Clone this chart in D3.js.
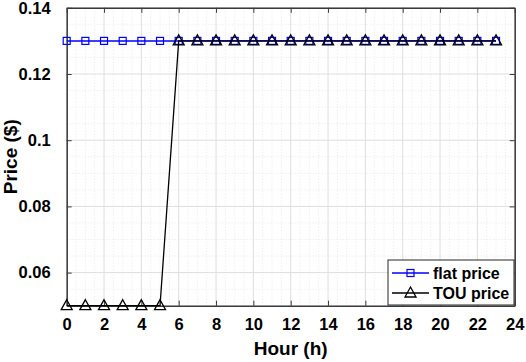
<!DOCTYPE html>
<html lang="en">
<head>
  <meta charset="UTF-8" />
  <title>Flat vs TOU price</title>
  <script src="https://d3js.org/d3.v7.min.js"></script>
  <style>
    body { margin: 0; background: #fff; }
    svg { display: block; }
    svg text { font-family: "Liberation Sans", Arial, sans-serif; font-weight: 700; fill: #000; }
    .grid-major line { stroke: #dedede; stroke-width: 1; }
    .grid-minor line { stroke: #e8e8e8; stroke-width: 1; stroke-dasharray: 1 2; }
  </style>
</head>
<body>
  <svg width="526" height="362"></svg>

  <script>
    // data
    const hours = d3.range(0, 24);
    const flatPrice = [0.13, 0.13, 0.13, 0.13, 0.13, 0.13, 0.13, 0.13, 0.13, 0.13, 0.13, 0.13,
                       0.13, 0.13, 0.13, 0.13, 0.13, 0.13, 0.13, 0.13, 0.13, 0.13, 0.13, 0.13];
    const touPrice  = [0.05, 0.05, 0.05, 0.05, 0.05, 0.05, 0.13, 0.13, 0.13, 0.13, 0.13, 0.13,
                       0.13, 0.13, 0.13, 0.13, 0.13, 0.13, 0.13, 0.13, 0.13, 0.13, 0.13, 0.13];
    const xTicks = d3.range(0, 25, 2);
    const yTicks = [0.06, 0.08, 0.1, 0.12, 0.14];
    const seriesNames = ["flat price", "TOU price"];

    const svg = d3.select("svg");
    const margin = { left: 66.7, right: 11.3, top: 7.8, bottom: 56.3 };
    const width = 526, height = 362;
    const x0 = margin.left, x1 = width - margin.right;
    const y0 = height - margin.bottom, y1 = margin.top;

    const x = d3.scaleLinear().domain([0, 24]).range([x0, x1]);
    const y = d3.scaleLinear().domain([0.05, 0.14]).range([y0, y1]);

    // minor grid (dotted)
    const minorX = d3.range(0, 24.01, 0.5).filter(v => v % 2 !== 0);
    const minorY = d3.range(0.05, 0.1401, 0.005).filter(v => Math.abs(v / 0.02 - Math.round(v / 0.02)) > 1e-6);
    const gMinor = svg.append("g").attr("class", "grid-minor");
    gMinor.selectAll("line.v").data(minorX).enter().append("line")
      .attr("x1", d => x(d)).attr("x2", d => x(d)).attr("y1", y0).attr("y2", y1);
    gMinor.selectAll("line.h").data(minorY).enter().append("line")
      .attr("y1", d => y(d)).attr("y2", d => y(d)).attr("x1", x0).attr("x2", x1);

    // major grid
    const gMajor = svg.append("g").attr("class", "grid-major");
    gMajor.selectAll("line.v").data(xTicks).enter().append("line")
      .attr("x1", d => x(d)).attr("x2", d => x(d)).attr("y1", y0).attr("y2", y1);
    gMajor.selectAll("line.h").data(yTicks).enter().append("line")
      .attr("y1", d => y(d)).attr("y2", d => y(d)).attr("x1", x0).attr("x2", x1);

    // axes with inward ticks on all four sides
    const axisColor = "#3a3a3a";
    const tickLen = 5;
    const fmtY = d => d3.format(".2f")(d).replace(/0$/, "");

    const gBottom = svg.append("g").attr("transform", `translate(0,${y0})`)
      .call(d3.axisBottom(x).tickValues(xTicks).tickSize(-tickLen).tickPadding(13).tickSizeOuter(0));
    const gTop = svg.append("g").attr("transform", `translate(0,${y1})`)
      .call(d3.axisTop(x).tickValues(xTicks).tickSize(-tickLen).tickFormat("").tickSizeOuter(0));
    const gLeft = svg.append("g").attr("transform", `translate(${x0},0)`)
      .call(d3.axisLeft(y).tickValues(yTicks).tickSize(-tickLen).tickPadding(16).tickFormat(fmtY).tickSizeOuter(0));
    const gRight = svg.append("g").attr("transform", `translate(${x1},0)`)
      .call(d3.axisRight(y).tickValues(yTicks).tickSize(-tickLen).tickFormat("").tickSizeOuter(0));

    [gBottom, gTop, gLeft, gRight].forEach(g => {
      g.attr("font-family", null).attr("font-size", null);
      g.select(".domain").attr("stroke", axisColor).attr("stroke-width", 1.5);
      g.selectAll(".tick line").attr("stroke", axisColor).attr("stroke-width", 1);
      g.selectAll("text").attr("fill", "#000").style("font-size", "16.5px");
    });

    // series
    const line = d3.line().x((d, i) => x(hours[i])).y(d => y(d));

    svg.append("path").datum(flatPrice)
      .attr("fill", "none").attr("stroke", "#0000ff").attr("stroke-width", 1.5).attr("d", line);
    svg.append("g").selectAll("rect").data(flatPrice).enter().append("rect")
      .attr("x", (d, i) => x(hours[i]) - 3.5).attr("y", d => y(d) - 3.5)
      .attr("width", 7).attr("height", 7)
      .attr("fill", "none").attr("stroke", "#0000ff").attr("stroke-width", 1.2);

    svg.append("path").datum(touPrice)
      .attr("fill", "none").attr("stroke", "#000").attr("stroke-width", 1.3).attr("d", line);
    const tri = "M0,-6L5.5,4L-5.5,4Z";
    svg.append("g").selectAll("path").data(touPrice).enter().append("path")
      .attr("transform", (d, i) => `translate(${x(hours[i])},${y(d)})`)
      .attr("d", tri).attr("fill", "none").attr("stroke", "#000").attr("stroke-width", 1.3);

    // axis labels
    svg.append("text").attr("x", (x0 + x1) / 2).attr("y", 355)
      .attr("text-anchor", "middle").style("font-size", "19px").text("Hour (h)");
    svg.append("text").attr("transform", `translate(17,${(y0 + y1) / 2}) rotate(-90)`)
      .attr("text-anchor", "middle").style("font-size", "19px").text("Price ($)");

    // legend
    const lg = svg.append("g").attr("transform", "translate(388,260)");
    lg.append("rect").attr("width", 126).attr("height", 45)
      .attr("fill", "#fff").attr("stroke", "#262626").attr("stroke-width", 1);
    seriesNames.forEach((name, i) => {
      const cy = 13 + i * 20;
      const color = i === 0 ? "#0000ff" : "#000";
      lg.append("line").attr("x1", 4).attr("x2", 41).attr("y1", cy).attr("y2", cy)
        .attr("stroke", color).attr("stroke-width", i === 0 ? 1.5 : 1.3);
      if (i === 0) {
        lg.append("rect").attr("x", 22.5 - 3.5).attr("y", cy - 3.5).attr("width", 7).attr("height", 7)
          .attr("fill", "none").attr("stroke", color).attr("stroke-width", 1.2);
      } else {
        lg.append("path").attr("transform", `translate(22.5,${cy})`).attr("d", tri)
          .attr("fill", "none").attr("stroke", color).attr("stroke-width", 1.3);
      }
      lg.append("text").attr("x", 45).attr("y", cy).attr("dy", "0.36em")
        .style("font-size", "16px").text(name);
    });
  </script>
</body>
</html>
